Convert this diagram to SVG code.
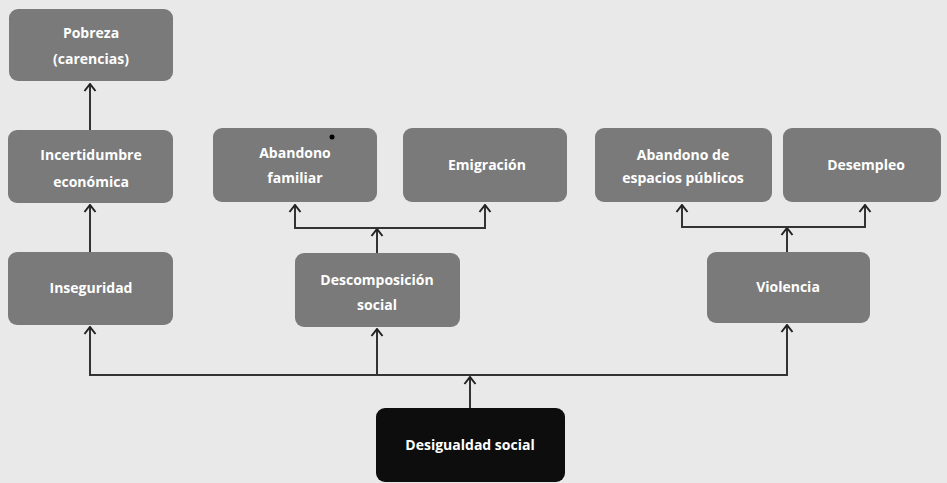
<svg xmlns="http://www.w3.org/2000/svg" width="947" height="483" viewBox="0 0 947 483">
<defs>
<marker id="ah" viewBox="0 0 14 14" refX="7" refY="1.5" markerWidth="14" markerHeight="14" markerUnits="userSpaceOnUse" orient="0">
<path d="M1.5,8.5 L7,1.5 L12.5,8.5" fill="none" stroke="#222" stroke-width="2"/>
</marker>
</defs>
<style>
.bg{fill:#e9e9e9}
.box rect{fill:#7a7a7a}
.box text{fill:#fff;font-family:"Open Sans","Liberation Sans",sans-serif;font-size:14px;font-weight:bold;text-anchor:middle}
.dark rect{fill:#0d0d0d}
.con line,.con polyline{stroke:#333;stroke-width:2;fill:none}
.arr{marker-end:url(#ah)}
</style>
<rect class="bg" x="0" y="0" width="947" height="483"/>
<g class="con">
<line class="arr" x1="90" y1="130" x2="90" y2="84"/>
<line class="arr" x1="90" y1="252" x2="90" y2="205"/>
<line class="arr" x1="377" y1="253" x2="377" y2="229"/>
<polyline points="295,205 295,228 485,228 485,205"/>
<line class="arr" x1="295" y1="228" x2="295" y2="205"/>
<line class="arr" x1="485" y1="228" x2="485" y2="205"/>
<line class="arr" x1="787" y1="252" x2="787" y2="228"/>
<polyline points="682,205 682,227 865,227 865,205"/>
<line class="arr" x1="682" y1="227" x2="682" y2="205"/>
<line class="arr" x1="865" y1="227" x2="865" y2="205"/>
<polyline points="90,327 90,375 787,375 787,325"/>
<line class="arr" x1="90" y1="375" x2="90" y2="327"/>
<line class="arr" x1="377" y1="375" x2="377" y2="329"/>
<line class="arr" x1="787" y1="375" x2="787" y2="325"/>
<line class="arr" x1="470" y1="408" x2="470" y2="377"/>
</g>
<g id="pobreza" class="box"><rect x="9" y="9" width="164" height="72" rx="9"/><text x="91" y="38">Pobreza</text><text x="91" y="64">(carencias)</text></g>
<g id="incertidumbre" class="box"><rect x="8" y="130" width="165" height="73" rx="9"/><text x="91" y="160">Incertidumbre</text><text x="91" y="187">económica</text></g>
<g id="inseguridad" class="box"><rect x="8" y="252" width="165" height="73" rx="9"/><text x="91" y="293">Inseguridad</text></g>
<g id="abandono-familiar" class="box"><rect x="213" y="128" width="164" height="74" rx="9"/><text x="295" y="158">Abandono</text><text x="295" y="183">familiar</text><circle cx="332" cy="137" r="2.5" fill="#000"/></g>
<g id="emigracion" class="box"><rect x="403" y="128" width="164" height="74" rx="9"/><text x="487" y="170">Emigración</text></g>
<g id="descomposicion" class="box"><rect x="295" y="253" width="165" height="74" rx="9"/><text x="377" y="285">Descomposición</text><text x="377" y="310">social</text></g>
<g id="abandono-espacios" class="box"><rect x="595" y="128" width="177" height="74" rx="9"/><text x="683" y="160">Abandono de</text><text x="683" y="183">espacios públicos</text></g>
<g id="desempleo" class="box"><rect x="783" y="128" width="158" height="74" rx="9"/><text x="866" y="170">Desempleo</text></g>
<g id="violencia" class="box"><rect x="707" y="252" width="163" height="71" rx="9"/><text x="788" y="292">Violencia</text></g>
<g id="desigualdad" class="box dark"><rect x="376" y="408" width="189" height="74" rx="9"/><text x="470" y="450">Desigualdad social</text></g>
</svg>
